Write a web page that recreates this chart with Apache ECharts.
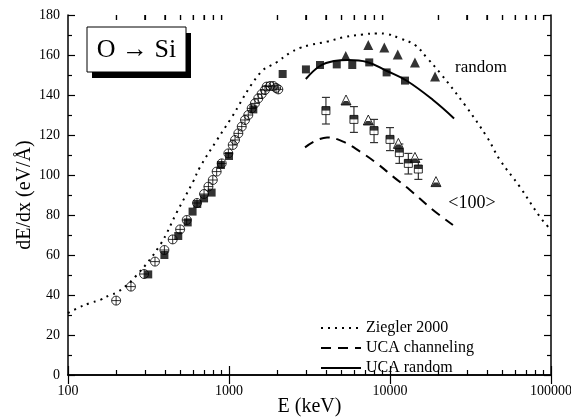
<!DOCTYPE html>
<html><head><meta charset="utf-8">
<script src="https://cdn.jsdelivr.net/npm/echarts@6/dist/echarts.min.js"></script>
<style>html,body{margin:0;padding:0;background:#fff}#c{width:571px;height:418px}</style>
</head><body><div id="c"></div>
<script>
// ---- data (E in keV, dE/dx in eV/Å) ----
const ziegler = [[100,31],[115,33.5],[137,36],[158,37.5],[182,40],[204,41.5],[261,49],[373,65],[475,81.5],[597,96.5],[661,104],[842,117.5],[1014,127.5],[1559,151],[1987,156.5],[2385,161],[2754,163.5],[3175,165],[4064,166.7],[5110,168.8],[6795,170.3],[8300,170.8],[9570,170.5],[11530,168.3],[14300,165],[16980,158.5],[20480,151],[29200,135],[40000,119],[48200,107.5],[64100,94],[85500,79],[100000,72.5]];
const ucaChanneling = [[2966,113.8],[4064,118.8],[5110,116.7],[6520,111.7],[8300,105.8],[10450,99.2],[13300,92.5],[18500,82.5],[24600,75]];
const ucaRandom = [[3000,148],[3670,154.5],[4500,157],[5500,157.5],[7200,156.5],[9570,152],[12770,147],[18500,137.5],[25000,128.3]];
const openCircles = [[199,37.2],[246,44.2],[297,50.5],[347,56.7],[397,62.5],[447,67.8],[497,72.8],[546,77.5],[633,86],[700,90.5],[745,94.2],[793,97.5],[838,101.7],[901,105.8],[991,110.8],[1055,115],[1090,117.5],[1143,120.8],[1200,124.2],[1257,127.5],[1318,130],[1383,133.3],[1449,135.8],[1520,138.3],[1595,140.5],[1673,142.5],[1714,144.2],[1800,144.5],[1885,144.5],[1960,143.5],[2024,142.8]];
const filledSquares = [[315,50.3],[397,60],[484,69.5],[554,76.3],[594,81.7],[635,85.5],[700,88.3],[780,91.2],[891,105],[1000,109.5],[1416,132.8],[2154,150.5],[3005,152.8],[3674,155],[4670,155.3],[5830,155],[7430,156.3],[9530,151.3],[12390,147.2]];
const filledTriangles = [[5310,159.5],[7330,165],[9220,163.8],[11170,160.3],[14290,156.3],[19050,149.2]];
const halfSquares = [[4000,132.2],[5970,127.8],[7960,122.2],[10000,117.8],[11430,111.2],[13000,105.8],[15000,103]];
const halfSquareErrLow = [125.5,121.3,116.2,112.2,105.8,100.5,97.8];
const halfSquareErrHigh = [138.8,134.2,127.8,123.7,115.5,110.8,107.8];
const halfTriangles = [[5330,137.5],[7330,127.5],[11270,115.8],[14290,108.8],[19300,96.7]];
const xMinorTicks = [200,300,400,500,600,700,800,900,2000,3000,4000,5000,6000,7000,8000,9000,20000,30000,40000,50000,60000,70000,80000,90000];
const xMajorTicks = [100,1000,10000,100000];
const xTickLabels = ['100','1000','10000','100000'];
const Y_MIN = 0, Y_MAX = 180;

const FONT = '"Liberation Serif","Times New Roman",serif';
const chart = echarts.init(document.getElementById('c'), null, {renderer:'canvas'});

const errData = halfSquares.map((p,i)=>[p[0], halfSquareErrLow[i], halfSquareErrHigh[i]]);
const tickData = xMinorTicks.map(v=>[v,Y_MAX,5]);

function minorAxis(pos){
  return {
    type:'log', logBase:10, min:100, max:100000, position:pos,
    axisLine:{show:false}, axisLabel:{show:false}, splitLine:{show:false},
    axisTick:{show:true, inside:true, length:5, customValues:xMinorTicks, lineStyle:{color:'#000',width:1.2}}
  };
}

const option = {
  animation:false,
  backgroundColor:'#fff',
  grid:{left:68,right:20,top:15,bottom:43,containLabel:false,outerBoundsMode:'none'},
  legend:{
    data:['Ziegler 2000','UCA channeling','UCA random'],
    orient:'vertical', left:315, top:315, itemWidth:40, itemHeight:10, itemGap:4,
    textStyle:{fontFamily:FONT,fontSize:16,color:'#000'},
    itemStyle:{opacity:0}
  },
  xAxis:[{
    type:'log', logBase:10, min:100, max:100000, position:'bottom',
    name:'E (keV)', nameLocation:'middle', nameGap:22, nameMoveOverlap:false,
    nameTextStyle:{fontFamily:FONT,fontSize:20,color:'#000'},
    axisLine:{lineStyle:{color:'#000',width:1.5}},
    axisTick:{show:true, inside:true, length:9, customValues:xMajorTicks, lineStyle:{color:'#000',width:1.2}},
    axisLabel:{fontFamily:FONT,fontSize:14,color:'#000',margin:9,
      formatter:v=>{const s=String(Math.round(v));return xTickLabels.includes(s)?s:'';}},
    splitLine:{show:false}
  },{
    type:'log', logBase:10, min:100, max:100000, position:'top',
    axisLine:{lineStyle:{color:'#000',width:1.5}},
    axisTick:{show:true, inside:true, length:9, customValues:xMajorTicks, lineStyle:{color:'#000',width:1.2}},
    axisLabel:{show:false}, splitLine:{show:false}
  },
  minorAxis('bottom'),
  minorAxis('top')
  ],
  yAxis:[{
    type:'value', min:Y_MIN, max:Y_MAX, interval:20, position:'left',
    name:'dE/dx (eV/Å)', nameLocation:'middle', nameGap:33, nameMoveOverlap:false,
    nameTextStyle:{fontFamily:FONT,fontSize:20,color:'#000'},
    axisLine:{show:true,lineStyle:{color:'#000',width:1.5}},
    axisTick:{inside:true,length:7,lineStyle:{color:'#000',width:1.2}},
    minorTick:{show:true,splitNumber:2,length:4,lineStyle:{color:'#000',width:1.2}},
    axisLabel:{fontFamily:FONT,fontSize:14,color:'#000',margin:8},
    splitLine:{show:false}
  },{
    type:'value', min:Y_MIN, max:Y_MAX, interval:20, position:'right',
    axisLine:{show:true,lineStyle:{color:'#000',width:1.5}},
    axisTick:{inside:true,length:7,lineStyle:{color:'#000',width:1.2}},
    minorTick:{show:true,splitNumber:2,length:4,lineStyle:{color:'#000',width:1.2}},
    axisLabel:{show:false}, splitLine:{show:false}
  }],
  series:[
    {type:'custom', name:'xTicksTop', silent:true, data:tickData, clip:false, z:1,
      renderItem:(params,api)=>{
        const v=api.value(0), len=api.value(2);
        const t=api.coord([v,Y_MAX]);
        return {type:'line',shape:{x1:t[0],y1:t[1],x2:t[0],y2:t[1]+len},style:{stroke:'#000',lineWidth:1.2}};
      }},
    {type:'line', name:'Ziegler 2000', data:ziegler, smooth:0.4, showSymbol:false, symbol:'none',
      lineStyle:{color:'#000',width:2,type:[2,5]}, itemStyle:{color:'#000'}},
    {type:'line', name:'UCA channeling', data:ucaChanneling, smooth:0.4, showSymbol:false, symbol:'none',
      lineStyle:{color:'#000',width:2,type:[10,7]}, itemStyle:{color:'#000'}},
    {type:'line', name:'UCA random', data:ucaRandom, smooth:0.4, showSymbol:false, symbol:'none',
      lineStyle:{color:'#000',width:2,type:'solid'}, itemStyle:{color:'#000'}},
    {type:'custom', name:'err', data:errData, z:3,
      renderItem:(params,api)=>{
        const x=api.value(0), lo=api.coord([x,api.value(1)]), hi=api.coord([x,api.value(2)]);
        const st={stroke:'#333',lineWidth:1.2};
        return {type:'group',children:[
          {type:'line',shape:{x1:lo[0],y1:lo[1],x2:hi[0],y2:hi[1]},style:st},
          {type:'line',shape:{x1:lo[0]-4,y1:lo[1],x2:lo[0]+4,y2:lo[1]},style:st},
          {type:'line',shape:{x1:hi[0]-4,y1:hi[1],x2:hi[0]+4,y2:hi[1]},style:st}
        ]};
      }},
    {type:'scatter', name:'circles', data:openCircles, z:4,
      symbol:'path://M5,0A5,5,0,1,1,5,10A5,5,0,1,1,5,0ZM5,0L5,10M0,5L10,5', symbolSize:9,
      itemStyle:{color:'rgba(255,255,255,0)',borderColor:'#000',borderWidth:1}},
    {type:'scatter', name:'squares', data:filledSquares, z:5, symbol:'rect', symbolSize:8,
      itemStyle:{color:'#000'}},
    {type:'scatter', name:'triangles', data:filledTriangles, z:5, symbol:'triangle', symbolSize:10,
      itemStyle:{color:'#000'}},
    {type:'scatter', name:'halfSqOpen', data:halfSquares, z:5, symbol:'rect', symbolSize:8,
      itemStyle:{color:'#fff',borderColor:'#000',borderWidth:1}},
    {type:'scatter', name:'halfSqTop', data:halfSquares, z:6, symbol:'rect', symbolSize:[8,4], symbolOffset:[0,-2],
      itemStyle:{color:'#000'}},
    {type:'scatter', name:'halfTriOpen', data:halfTriangles, z:5, symbol:'triangle', symbolSize:10,
      itemStyle:{color:'#fff',borderColor:'#000',borderWidth:1}},
    {type:'scatter', name:'halfTriBottom', data:halfTriangles, z:6,
      symbol:'path://M3,6L7,6L10,10L0,10Z', symbolSize:[10,4], symbolOffset:[0,3],
      itemStyle:{color:'#000'}}
  ],
  graphic:[
    {type:'rect', shape:{x:92,y:33,width:99,height:45}, style:{fill:'#000'}, z:10},
    {type:'rect', shape:{x:87,y:27,width:99,height:45}, style:{fill:'#fff',stroke:'#000',lineWidth:1}, z:11},
    {type:'text', x:136.5, y:50, z:12, style:{text:'O → Si', font:'26px '+FONT, fill:'#000', textAlign:'center', textVerticalAlign:'middle'}},
    {type:'text', x:481, y:68, z:12, style:{text:'random', font:'17px '+FONT, fill:'#000', textAlign:'center', textVerticalAlign:'middle'}},
    {type:'text', x:472, y:203, z:12, style:{text:'<100>', font:'18px '+FONT, fill:'#000', textAlign:'center', textVerticalAlign:'middle'}}
  ]
};
chart.setOption(option);
</script></body></html>
